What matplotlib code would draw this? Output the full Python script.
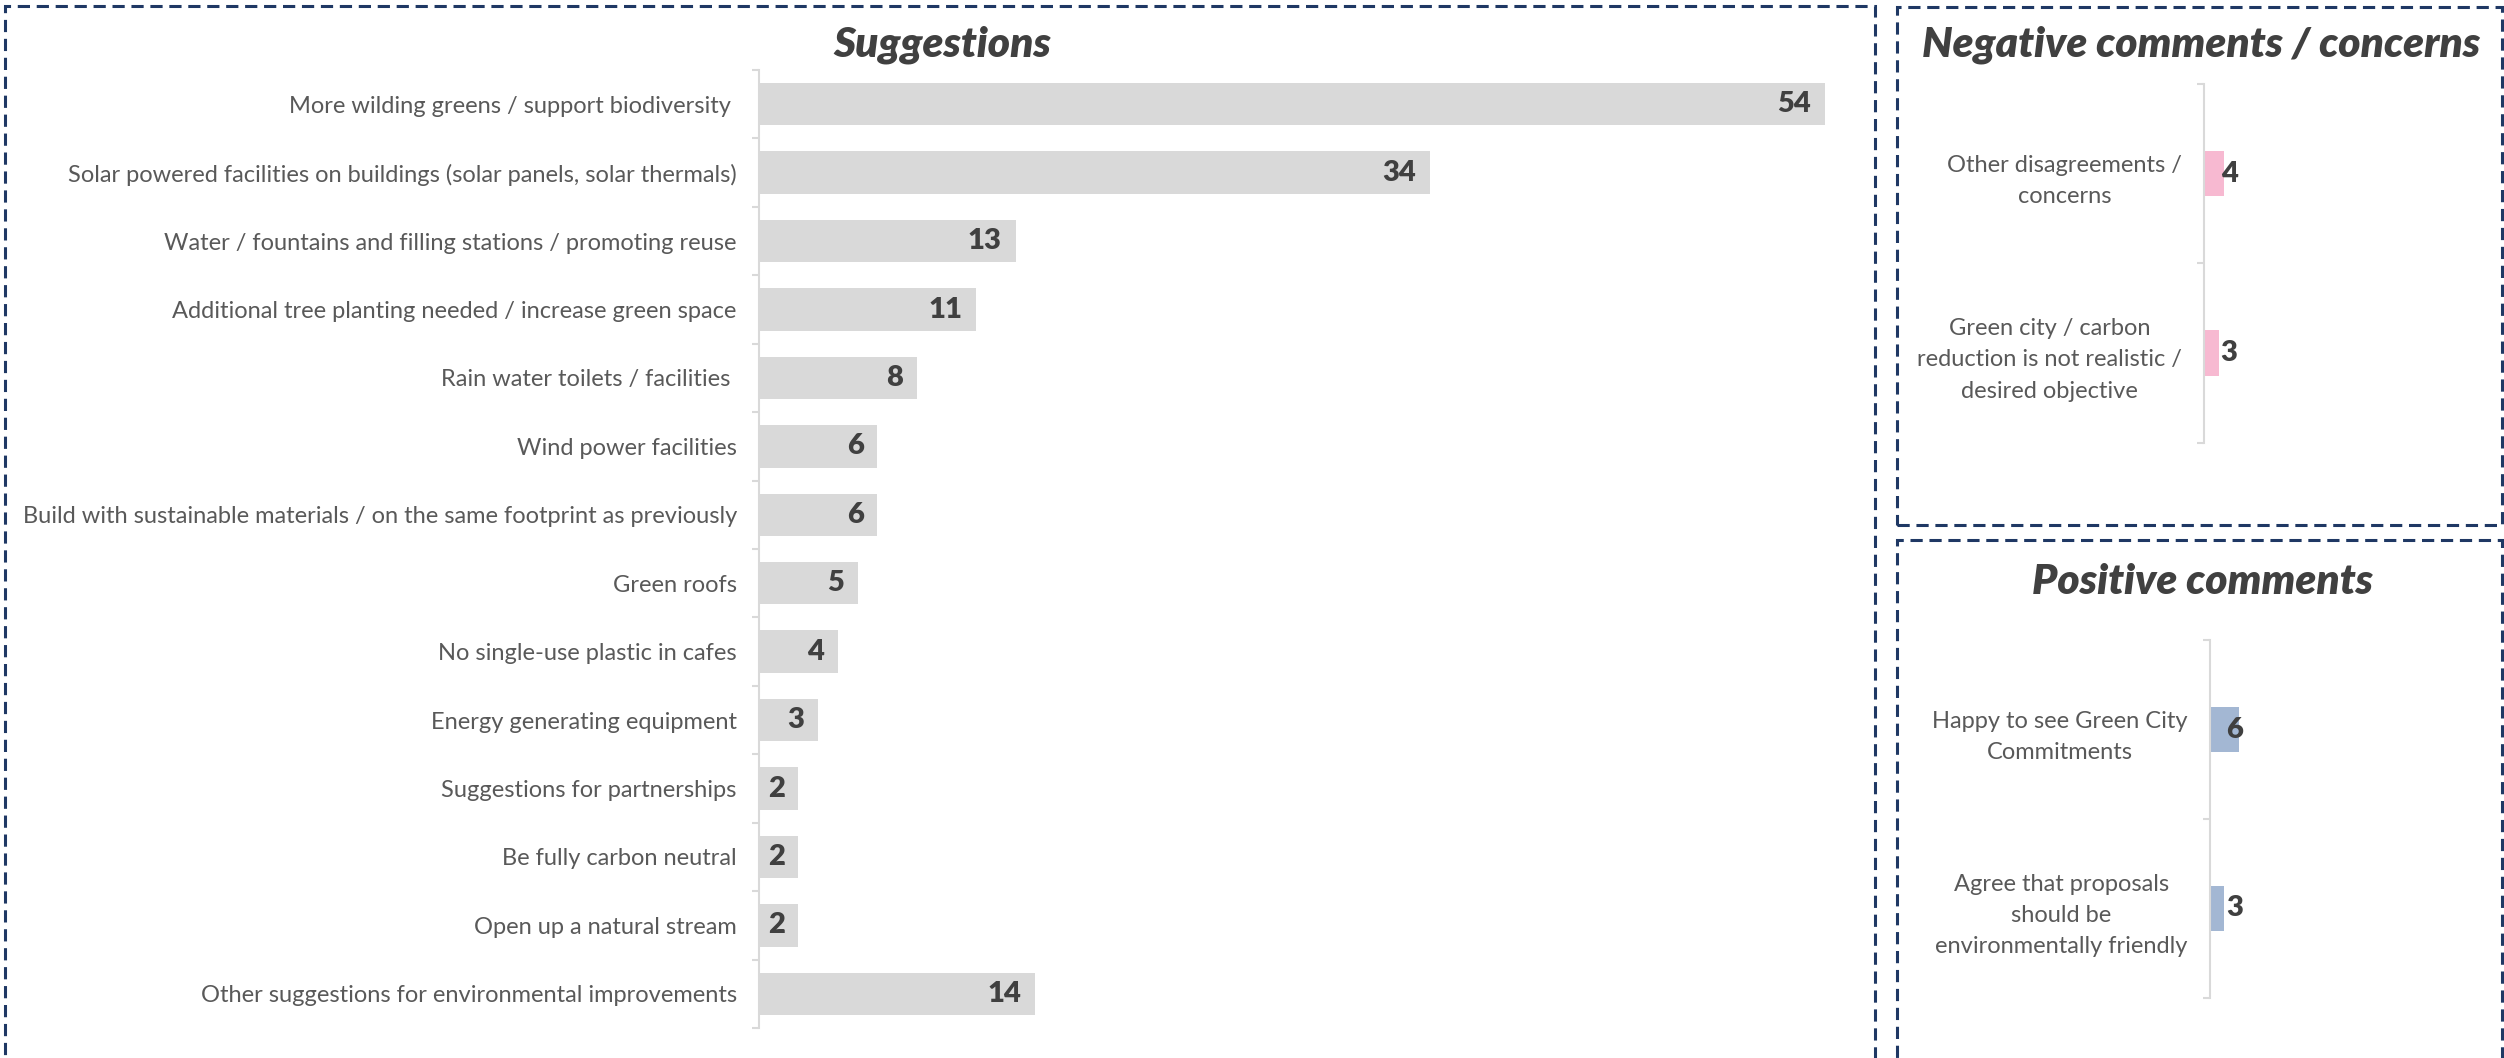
import matplotlib
matplotlib.use("Agg")
import matplotlib.pyplot as plt
import numpy as np
from matplotlib.patches import Rectangle

suggest_labels = [
    "More wilding greens / support biodiversity ",
    "Solar powered facilities on buildings (solar panels, solar thermals)",
    "Water / fountains and filling stations / promoting reuse",
    "Additional tree planting needed / increase green space",
    "Rain water toilets / facilities ",
    "Wind power facilities",
    "Build with sustainable materials / on the same footprint as previously",
    "Green roofs",
    "No single-use plastic in cafes",
    "Energy generating equipment",
    "Suggestions for partnerships",
    "Be fully carbon neutral",
    "Open up a natural stream",
    "Other suggestions for environmental improvements",
]
suggest_counts = [54, 34, 13, 11, 8, 6, 6, 5, 4, 3, 2, 2, 2, 14]

neg_labels = [
    "Other disagreements /\nconcerns",
    "Green city / carbon\nreduction is not realistic /\ndesired objective",
]
neg_counts = [4, 3]

pos_labels = [
    "Happy to see Green City\nCommitments",
    "Agree that proposals\nshould be\nenvironmentally friendly",
]
pos_counts = [6, 3]

plt.rcParams["font.family"] = ["Lato", "DejaVu Sans"]

W, H = 2504, 1058
fig = plt.figure(figsize=(W / 100, H / 100), dpi=100)

TEXT = "#595959"
DARK = "#404040"
AXIS = "#d9d9d9"
NAVY = "#1f3864"


def px_rect(x0, y_top, x1, y_bot):
    return [x0 / W, 1 - y_bot / H, (x1 - x0) / W, (y_bot - y_top) / H]


def panel(rect, labels, counts, color, xmax, bar_h, label_fs, inside):
    ax = fig.add_axes(rect)
    y = np.arange(len(labels))
    bars = ax.barh(y, counts, height=bar_h, color=color)
    ax.set_xlim(0, xmax)
    ax.set_ylim(len(labels) - 0.5, -0.5)
    ax.set_yticks(y, labels)
    ax.set_yticks(np.arange(len(labels) + 1) - 0.5, minor=True)
    for s in ["top", "right", "bottom"]:
        ax.spines[s].set_visible(False)
    ax.spines["left"].set_color(AXIS)
    ax.spines["left"].set_linewidth(1.5)
    ax.xaxis.set_visible(False)
    ax.tick_params(axis="y", which="major", length=0, pad=16,
                   labelsize=label_fs, labelcolor=TEXT)
    ax.tick_params(axis="y", which="minor", length=5, width=1.5, color=AXIS)
    for t in ax.get_yticklabels():
        t.set_multialignment("center")
        t.set_linespacing(1.6)
    for b, v in zip(bars, counts):
        yc = b.get_y() + b.get_height() / 2
        if inside:
            ax.annotate(str(v), (v, yc), xytext=(-10, 0), textcoords="offset points",
                        ha="right", va="center", fontsize=21, fontweight="heavy", color=DARK)
        else:
            ax.annotate(str(v), (0, yc), xytext=(12, 0), textcoords="offset points",
                        ha="left", va="center", fontsize=21, fontweight="heavy", color=DARK)
    return ax


panel(px_rect(759, 70, 1864, 1028), suggest_labels, suggest_counts, "#d9d9d9",
      56, 0.62, 17, True)
panel(px_rect(2204, 84, 2479, 442.5), neg_labels, neg_counts, "#f7b9d1",
      55, 0.254, 17, False)
panel(px_rect(2209.5, 640, 2479.5, 998), pos_labels, pos_counts, "#a3b7d3",
      55, 0.254, 17, False)

title_kw = dict(fontsize=30.5, fontweight="heavy", fontstyle="italic", color=DARK,
                ha="center", va="center")
fig.text(942 / W, 1 - 45 / H, "Suggestions", **title_kw)
fig.text(2201 / W, 1 - 45 / H, "Negative comments / concerns", **title_kw)
fig.text(2202 / W, 1 - 582 / H, "Positive comments", **title_kw)

# dashed frames around the three panels
for x0, yt, x1, yb in [(5, 6, 1875, 1080), (1897, 7, 2502, 525), (1897, 540, 2502, 1080)]:
    fig.patches.append(Rectangle((x0 / W, 1 - yb / H), (x1 - x0) / W, (yb - yt) / H,
                                 transform=fig.transFigure, fill=False, edgecolor=NAVY,
                                 linewidth=2.2, linestyle=(0, (4, 2.2)), clip_on=False))

fig.savefig("out.png", dpi=100, facecolor="white")
